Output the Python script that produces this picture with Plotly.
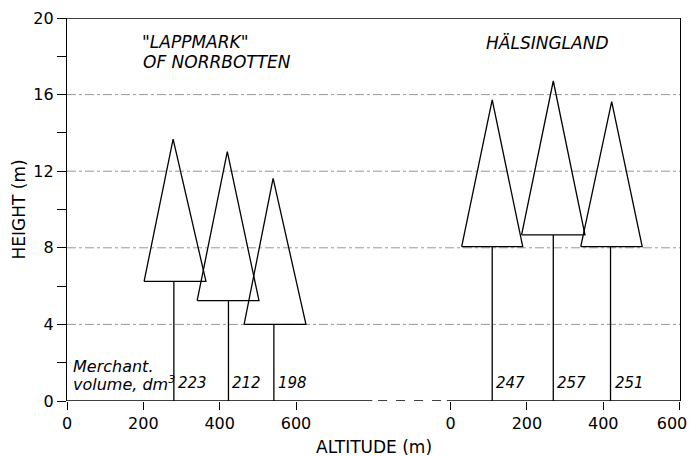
import plotly.graph_objects as go

# ---------------- data ----------------
RIGHT_OFFSET = 1005  # altitude offset of second panel on the shared x scale
X_MAX = 1606

TICK_VALUES = [0, 200, 400, 600]
TICK_LABELS = ["0", "200", "400", "600"]

# Lappmark of Norrbotten trees (altitude m, height m)
lap_trunk_x = [280, 423, 542]
lap_crown_base = [6.25, 5.24, 4.0]
lap_crown_left = [202, 341, 464]
lap_crown_right = [364, 503, 626]
lap_apex_x = [278, 420, 540]
lap_top = [13.67, 13.02, 11.63]
lap_volume = ["223", "212", "198"]

# Hälsingland trees
hal_trunk_x = [109, 269, 419]
hal_crown_base = [8.06, 8.67, 8.06]
hal_crown_left = [29, 186, 341]
hal_crown_right = [189, 352, 502]
hal_apex_x = [109, 269, 422]
hal_top = [15.72, 16.71, 15.63]
hal_volume = ["247", "257", "251"]

Y_MAJOR = [0, 4, 8, 12, 16, 20]
GRID_Y = [4, 8, 12, 16]
AXIS_BREAK = [805, 990]

FONT = "DejaVu Sans"

fig = go.Figure()


def add_trees(trunk_x, base, left, right, apex_x, top, vols, off):
    for tx, b, l, r, ax, t, v in zip(trunk_x, base, left, right, apex_x, top, vols):
        fig.add_trace(go.Scatter(
            x=[l + off, ax + off, r + off, l + off],
            y=[b, t, b, b],
            mode="lines", line=dict(color="black", width=1.3),
            hoverinfo="skip", showlegend=False))
        fig.add_trace(go.Scatter(
            x=[tx + off, tx + off], y=[0, b],
            mode="lines", line=dict(color="black", width=1.3),
            hoverinfo="skip", showlegend=False))
        fig.add_annotation(x=tx + off, y=0.94, text="<i>%s</i>" % v,
                           xanchor="left", yanchor="middle", xshift=2,
                           showarrow=False, font=dict(family=FONT, size=15, color="black"))


add_trees(lap_trunk_x, lap_crown_base, lap_crown_left, lap_crown_right,
          lap_apex_x, lap_top, lap_volume, 0)
add_trees(hal_trunk_x, hal_crown_base, hal_crown_left, hal_crown_right,
          hal_apex_x, hal_top, hal_volume, RIGHT_OFFSET)

# grid lines
for gy in GRID_Y:
    fig.add_shape(type="line", xref="paper", x0=0, x1=1, yref="y", y0=gy, y1=gy,
                  line=dict(color="#8a8a8a", width=0.9, dash="dashdot"), layer="below")

# top frame line
fig.add_shape(type="line", xref="paper", x0=0, x1=1, yref="y", y0=20, y1=20,
              line=dict(color="black", width=1.3))
# bottom axis with break
fig.add_shape(type="line", xref="x", x0=0, x1=AXIS_BREAK[0] - 5, yref="y", y0=0, y1=0,
              line=dict(color="black", width=1.3))
fig.add_shape(type="line", xref="x", x0=AXIS_BREAK[0] + 10, x1=AXIS_BREAK[1], yref="y", y0=0, y1=0,
              line=dict(color="black", width=1.3, dash="dash"))
fig.add_shape(type="line", xref="x", x0=AXIS_BREAK[1] + 5, x1=X_MAX, yref="y", y0=0, y1=0,
              line=dict(color="black", width=1.3))

txt = dict(family=FONT, size=17, color="black")
fig.add_annotation(x=190, y=18.75, text='<i>"LAPPMARK"</i>', xanchor="left",
                   showarrow=False, font=txt)
fig.add_annotation(x=195, y=17.7, text="<i>OF NORRBOTTEN</i>", xanchor="left",
                   showarrow=False, font=txt)
fig.add_annotation(x=RIGHT_OFFSET + 88, y=18.72, text="<i>HÄLSINGLAND</i>", xanchor="left",
                   showarrow=False, font=txt)

fig.add_annotation(x=10, y=1.8, text="<i>Merchant.</i>", xanchor="left",
                   showarrow=False, font=dict(family=FONT, size=16, color="black"))
fig.add_annotation(x=10, y=0.94, text="<i>volume, dm<sup>3</sup></i>", xanchor="left",
                   showarrow=False, font=dict(family=FONT, size=16, color="black"))

# axis titles
fig.add_annotation(xref="paper", yref="paper", x=0.5, y=0, yanchor="middle", yshift=-46,
                   text="ALTITUDE (m)", showarrow=False,
                   font=dict(family=FONT, size=17, color="black"))
fig.add_annotation(xref="paper", yref="paper", x=0, y=0.5, xanchor="center", xshift=-49,
                   text="HEIGHT (m)", textangle=-90, showarrow=False,
                   font=dict(family=FONT, size=17, color="black"))

xtickvals = TICK_VALUES + [v + RIGHT_OFFSET for v in TICK_VALUES]
# last label padded so it is not clipped at the page edge
xticktext = TICK_LABELS + TICK_LABELS[:-1] + [TICK_LABELS[-1] + "\u00a0\u00a0\u00a0"]

# page adds an 8px body margin, so the figure is sized/margined to compensate
fig.update_layout(
    width=689, height=448,
    margin=dict(l=59, r=17, t=10, b=55, autoexpand=False),
    paper_bgcolor="white", plot_bgcolor="white",
    font=dict(family=FONT, size=16, color="black"),
    xaxis=dict(range=[0, X_MAX], tickvals=xtickvals, ticktext=xticktext,
               ticks="outside", ticklen=8, tickcolor="black", tickwidth=1,
               showgrid=False, zeroline=False, showline=False, automargin=False,
               ticklabeloverflow="allow",
               tickfont=dict(family=FONT, size=16)),
    yaxis=dict(range=[0, 20], tickvals=Y_MAJOR, ticks="outside", ticklen=9,
               tickcolor="black", tickwidth=1, showgrid=False, zeroline=False,
               showline=True, linecolor="black", linewidth=1.3, mirror=True,
               automargin=False, tickfont=dict(family=FONT, size=16),
               minor=dict(ticks="outside", ticklen=9, dtick=2, tick0=0,
                          tickcolor="black", showgrid=False)),
)

fig.write_html("out.html")
